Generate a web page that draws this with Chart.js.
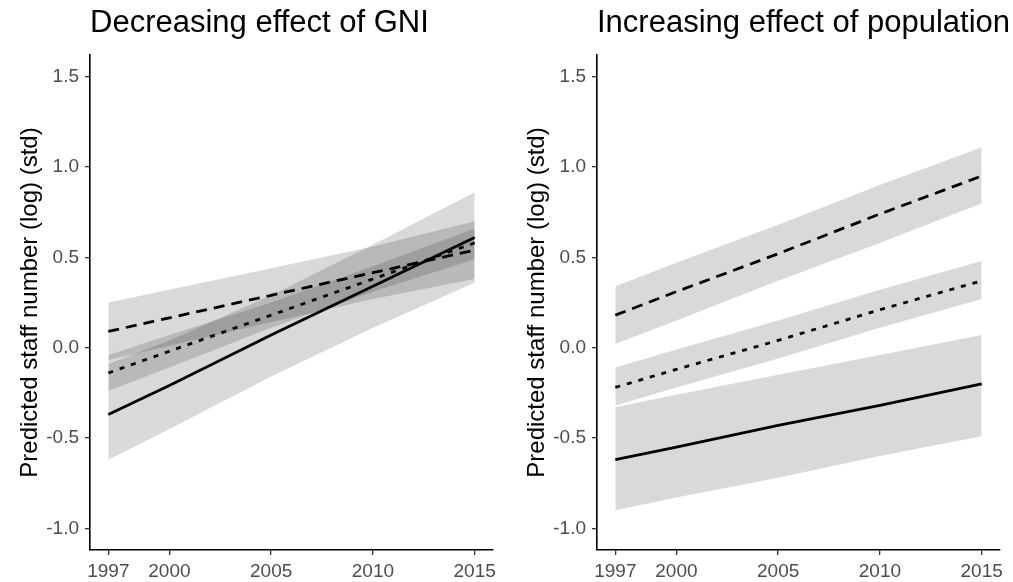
<!DOCTYPE html>
<html>
<head>
<meta charset="utf-8">
<script src="https://cdn.jsdelivr.net/npm/chart.js@4"></script>
<style>
    body { margin: 0; background: #fff; }
    #wrap { position: relative; width: 1013px; height: 582px; }
    canvas { position: absolute; top: 0; }
    #gniChart { left: 0; }
    #popChart { left: 507px; }
</style>
</head>
<body>
<div id="wrap">
    <canvas id="gniChart" width="506" height="582"></canvas>
    <canvas id="popChart" width="506" height="582"></canvas>
</div>
<script>
const years = [1997, 2000, 2005, 2010, 2015];
const xTicks = [1997, 2000, 2005, 2010, 2015];
const yTicks = [-1.0, -0.5, 0.0, 0.5, 1.0, 1.5];
const yLabel = 'Predicted staff number (log) (std)';

// left panel: GNI
const gniTitle = 'Decreasing effect of GNI';
const gniSolid = [-0.37, -0.21, 0.07, 0.34, 0.61];
const gniSolidLo = [-0.62, -0.45, -0.16, 0.11, 0.36];
const gniSolidHi = [-0.09, 0.04, 0.29, 0.57, 0.86];
const gniDashed = [0.09, 0.165, 0.29, 0.415, 0.54];
const gniDashedLo = [-0.07, 0.01, 0.14, 0.27, 0.38];
const gniDashedHi = [0.25, 0.32, 0.44, 0.56, 0.70];
const gniDotted = [-0.14, -0.02, 0.18, 0.38, 0.58];
const gniDottedLo = [-0.24, -0.11, 0.11, 0.31, 0.49];
const gniDottedHi = [-0.04, 0.07, 0.25, 0.45, 0.66];

// right panel: population
const popTitle = 'Increasing effect of population';
const popSolid = [-0.62, -0.55, -0.43, -0.32, -0.20];
const popSolidLo = [-0.90, -0.83, -0.72, -0.60, -0.49];
const popSolidHi = [-0.33, -0.26, -0.15, -0.04, 0.07];
const popDashed = [0.18, 0.31, 0.52, 0.74, 0.95];
const popDashedLo = [0.02, 0.15, 0.37, 0.58, 0.80];
const popDashedHi = [0.34, 0.47, 0.68, 0.90, 1.11];
const popDotted = [-0.22, -0.12, 0.04, 0.21, 0.37];
const popDottedLo = [-0.32, -0.22, -0.06, 0.11, 0.27];
const popDottedHi = [-0.11, -0.01, 0.15, 0.32, 0.48];

const FONT = '"Liberation Sans", Arial, sans-serif';
const RIBBON = 'rgba(0,0,0,0.15)';
const DASHES = { solid: [], dashed: [11, 7], dotted: [5, 7] };

function pts(vals) {
    return years.map((y, i) => ({ x: y, y: vals[i] }));
}

const panelTitle = {
    id: 'panelTitle',
    afterDraw(chart, args, opts) {
        const ctx = chart.ctx;
        ctx.save();
        ctx.font = '31px ' + FONT;
        ctx.fillStyle = '#000';
        ctx.textBaseline = 'middle';
        ctx.fillText(opts.text, chart.chartArea.left, 23);
        ctx.restore();
    }
};

function makeChart(canvas, title, series) {
    const datasets = [];
    // lines first so they are drawn on top
    series.forEach(s => {
        datasets.push({
            data: pts(s.line),
            borderColor: '#000',
            borderWidth: 2.8,
            borderDash: DASHES[s.style],
            pointRadius: 0,
            fill: false,
            order: 0
        });
    });
    series.forEach(s => {
        datasets.push({
            data: pts(s.hi),
            borderWidth: 0,
            pointRadius: 0,
            backgroundColor: RIBBON,
            fill: '+1',
            order: 1
        });
        datasets.push({
            data: pts(s.lo),
            borderWidth: 0,
            pointRadius: 0,
            fill: false,
            order: 1
        });
    });

    return new Chart(canvas.getContext('2d'), {
        type: 'line',
        data: { datasets: datasets },
        plugins: [panelTitle],
        options: {
            responsive: false,
            animation: false,
            layout: { padding: { top: 55, right: 13, bottom: 0, left: 0 } },
            plugins: {
                legend: { display: false },
                tooltip: { enabled: false },
                panelTitle: { text: title }
            },
            scales: {
                x: {
                    type: 'linear',
                    min: 1996.1,
                    max: 2015.9,
                    afterBuildTicks: scale => { scale.ticks = xTicks.map(v => ({ value: v })); },
                    afterFit: scale => { scale.height = 32; },
                    ticks: {
                        callback: v => String(v),
                        color: '#4d4d4d',
                        font: { family: FONT, size: 19 },
                        padding: 5,
                        maxRotation: 0,
                        autoSkip: false
                    },
                    grid: { drawOnChartArea: false, drawTicks: true, tickLength: 5, color: '#333', lineWidth: 1.3 },
                    border: { display: true, color: '#000', width: 1.6 }
                },
                y: {
                    min: -1.12,
                    max: 1.62,
                    afterBuildTicks: scale => { scale.ticks = yTicks.map(v => ({ value: v })); },
                    afterFit: scale => { scale.width = 90; },
                    ticks: {
                        callback: v => v.toFixed(1),
                        color: '#4d4d4d',
                        font: { family: FONT, size: 19 },
                        padding: 6
                    },
                    grid: { drawOnChartArea: false, drawTicks: true, tickLength: 5, color: '#333', lineWidth: 1.3 },
                    border: { display: true, color: '#000', width: 1.6 },
                    title: {
                        display: true,
                        text: yLabel,
                        color: '#000',
                        font: { family: FONT, size: 24 },
                        padding: { top: 16, bottom: 0 }
                    }
                }
            }
        }
    });
}

makeChart(document.getElementById('gniChart'), gniTitle, [
    { line: gniSolid, lo: gniSolidLo, hi: gniSolidHi, style: 'solid' },
    { line: gniDashed, lo: gniDashedLo, hi: gniDashedHi, style: 'dashed' },
    { line: gniDotted, lo: gniDottedLo, hi: gniDottedHi, style: 'dotted' }
]);

makeChart(document.getElementById('popChart'), popTitle, [
    { line: popSolid, lo: popSolidLo, hi: popSolidHi, style: 'solid' },
    { line: popDashed, lo: popDashedLo, hi: popDashedHi, style: 'dashed' },
    { line: popDotted, lo: popDottedLo, hi: popDottedHi, style: 'dotted' }
]);
</script>
</body>
</html>
